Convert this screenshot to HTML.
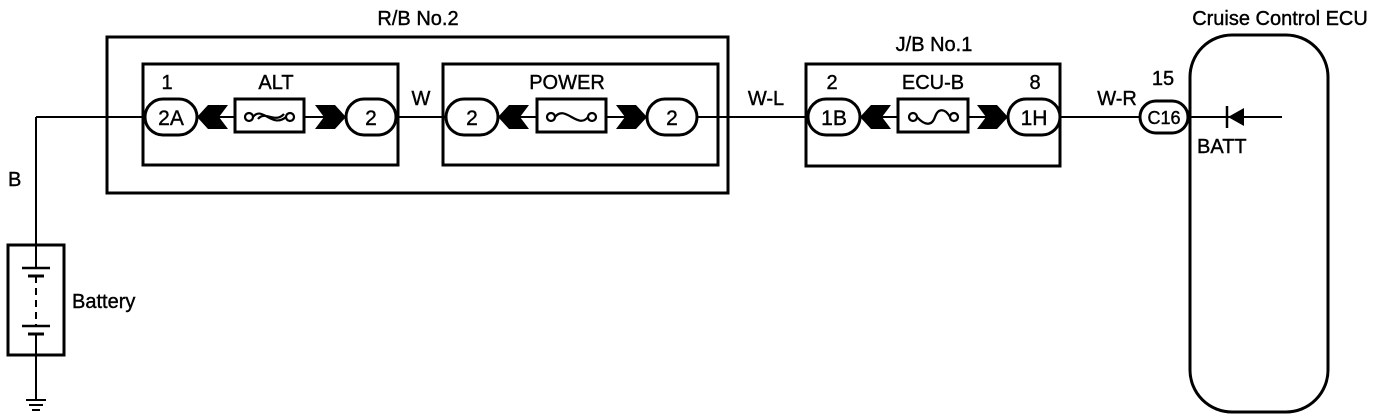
<!DOCTYPE html>
<html><head><meta charset="utf-8"><style>
html,body{margin:0;padding:0;background:#fff;}
svg{display:block;}
text{font-family:"Liberation Sans",sans-serif;fill:#000;stroke:#000;stroke-width:0.4;}
</style></head><body>
<svg width="1392" height="420" viewBox="0 0 1392 420" xmlns="http://www.w3.org/2000/svg">
<g fill="none" stroke="#000" stroke-width="2.5">
<line x1="36" y1="117" x2="1282" y2="117" stroke-width="2"/>
<line x1="36" y1="117" x2="36" y2="400" stroke-width="2"/>
<line x1="26" y1="400" x2="46" y2="400" stroke-width="2"/>
<line x1="29" y1="405" x2="43" y2="405" stroke-width="2"/>
<line x1="32" y1="410" x2="40" y2="410" stroke-width="2"/>
<rect x="8" y="245" width="56" height="110" fill="#fff" stroke-width="3"/>
<line x1="36" y1="245" x2="36" y2="268" stroke-width="2"/>
<line x1="22" y1="268" x2="50" y2="268" stroke-width="2.5"/>
<line x1="28" y1="276" x2="44" y2="276" stroke-width="3"/>
<line x1="36" y1="276" x2="36" y2="326" stroke-width="2" stroke-dasharray="7,5"/>
<line x1="22" y1="326" x2="50" y2="326" stroke-width="2.5"/>
<line x1="28" y1="334" x2="44" y2="334" stroke-width="3"/>
<line x1="36" y1="334" x2="36" y2="355" stroke-width="2"/>
<rect x="107" y="37" width="621" height="156" stroke-width="3"/>
<rect x="143" y="64" width="255" height="101" stroke-width="3"/>
<rect x="443" y="64" width="275" height="101" stroke-width="3"/>
<rect x="806" y="64" width="254" height="102" stroke-width="3"/>
<rect x="1190" y="35" width="138" height="377" rx="42" ry="42" stroke-width="3"/>
<rect x="235" y="99" width="69" height="33" fill="#fff" stroke-width="3"/>
<rect x="537" y="99" width="69" height="33" fill="#fff" stroke-width="3"/>
<rect x="898" y="99" width="70" height="33" fill="#fff" stroke-width="3"/>
<rect x="145" y="99" width="52" height="36" rx="18" fill="#fff" stroke-width="3"/>
<rect x="346" y="99" width="50" height="36" rx="18" fill="#fff" stroke-width="3"/>
<rect x="446" y="99" width="52" height="36" rx="18" fill="#fff" stroke-width="3"/>
<rect x="647" y="99" width="50" height="36" rx="18" fill="#fff" stroke-width="3"/>
<rect x="808" y="99" width="52" height="36" rx="18" fill="#fff" stroke-width="3"/>
<rect x="1008" y="99" width="52" height="36" rx="18" fill="#fff" stroke-width="3"/>
<rect x="1140" y="101" width="48" height="32" rx="16" fill="#fff" stroke-width="3"/>
<g stroke-width="2.2">
<circle cx="249" cy="117" r="4" fill="#fff"/><circle cx="290" cy="117" r="4" fill="#fff"/>
<path d="M253 117 C262 105 272 129 286 117"/><path d="M258 119 C265 110 275 124 284 114"/>
<circle cx="551" cy="117" r="4" fill="#fff"/><circle cx="592" cy="117" r="4" fill="#fff"/>
<path d="M555 117 C565 104 578 130 588 117"/>
<circle cx="913" cy="117" r="4" fill="#fff"/><circle cx="954" cy="117" r="4" fill="#fff"/>
<path d="M917 117 C925 126 932 126 935 117 C938 108 945 108 950 117"/>
</g>
<line x1="1227" y1="106" x2="1227" y2="128" stroke-width="2.5"/>
</g>
<polygon points="1228,117 1244,108 1244,126" fill="#000"/>
<g fill="#000">
<polygon points="197,117 208,105 228,105 219,117 228,129 208,129"/>
<polygon points="346,117 335,105 315,105 324,117 315,129 335,129"/>
<polygon points="498,117 509,105 529,105 520,117 529,129 509,129"/>
<polygon points="647,117 636,105 616,105 625,117 616,129 636,129"/>
<polygon points="860,117 871,105 891,105 882,117 891,129 871,129"/>
<polygon points="1008,117 997,105 977,105 986,117 977,129 997,129"/>
</g>
<g font-size="20">
<text x="418" y="25" text-anchor="middle">R/B No.2</text>
<text x="934" y="51" text-anchor="middle">J/B No.1</text>
<text x="1280" y="25" text-anchor="middle">Cruise Control ECU</text>
<text x="167" y="89" text-anchor="middle">1</text>
<text x="276" y="89" text-anchor="middle">ALT</text>
<text x="567" y="89" text-anchor="middle">POWER</text>
<text x="832" y="89" text-anchor="middle">2</text>
<text x="933" y="89" text-anchor="middle">ECU-B</text>
<text x="1035" y="89" text-anchor="middle">8</text>
<text x="1163" y="85" text-anchor="middle">15</text>
<text x="421" y="105" text-anchor="middle">W</text>
<text x="766" y="105" text-anchor="middle">W-L</text>
<text x="1117" y="105" text-anchor="middle">W-R</text>
<text x="8" y="186">B</text>
<text x="72" y="308">Battery</text>
<text x="1197" y="153">BATT</text>
<text x="171" y="125" text-anchor="middle" font-size="21">2A</text>
<text x="371" y="125" text-anchor="middle" font-size="21">2</text>
<text x="472" y="125" text-anchor="middle" font-size="21">2</text>
<text x="672" y="125" text-anchor="middle" font-size="21">2</text>
<text x="834" y="125" text-anchor="middle" font-size="21">1B</text>
<text x="1034" y="125" text-anchor="middle" font-size="21">1H</text>
<text x="1164" y="124" text-anchor="middle" font-size="18">C16</text>
</g>
</svg>
</body></html>
